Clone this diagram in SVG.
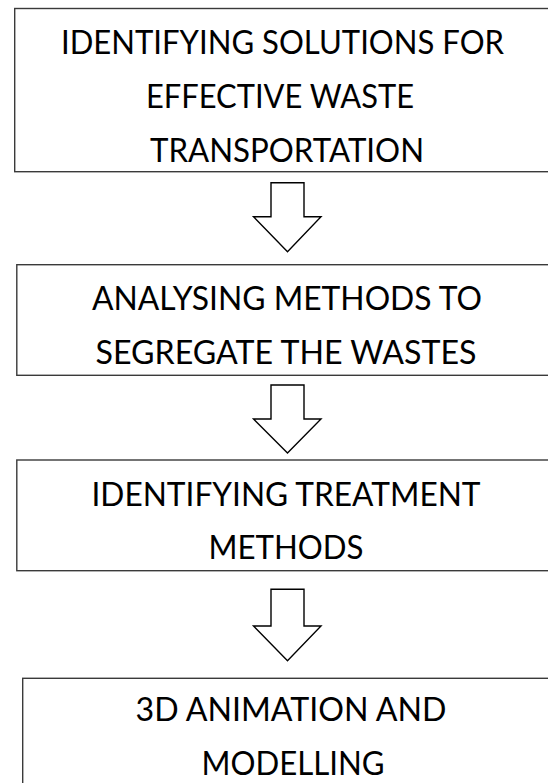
<svg xmlns="http://www.w3.org/2000/svg" width="548" height="783" viewBox="0 0 548 783">
<style>
.box{fill:#ffffff;stroke:#3a3a3a;stroke-width:1.4}
.arrow{fill:#ffffff;stroke:#000000;stroke-width:1.4;stroke-linejoin:miter}
.t{font-family:Lato,"Open Sans","Liberation Sans",sans-serif;font-size:33px;fill:#000000;text-anchor:middle}
</style>
<rect width="548" height="783" fill="#ffffff"/>
<g id="node1">
<rect class="box" x="14.7" y="8.5" width="560" height="163.2"/>
<text class="t" x="282.5" y="53.5" textLength="443" lengthAdjust="spacingAndGlyphs">IDENTIFYING SOLUTIONS FOR</text>
<text class="t" x="280" y="107.5" textLength="268" lengthAdjust="spacingAndGlyphs">EFFECTIVE WASTE</text>
<text class="t" x="287" y="161.5" textLength="274" lengthAdjust="spacingAndGlyphs">TRANSPORTATION</text>
</g>
<g id="node2">
<rect class="box" x="16.8" y="264.7" width="560" height="110.6"/>
<text class="t" x="287" y="310.3" textLength="390" lengthAdjust="spacingAndGlyphs">ANALYSING METHODS TO</text>
<text class="t" x="286" y="363.7" textLength="381" lengthAdjust="spacingAndGlyphs">SEGREGATE THE WASTES</text>
</g>
<g id="node3">
<rect class="box" x="16.8" y="460" width="560" height="110.7"/>
<text class="t" x="286" y="505.6" textLength="389" lengthAdjust="spacingAndGlyphs">IDENTIFYING TREATMENT</text>
<text class="t" x="286" y="558.5" textLength="155" lengthAdjust="spacingAndGlyphs">METHODS</text>
</g>
<g id="node4">
<rect class="box" x="22.7" y="678.3" width="560" height="140"/>
<text class="t" x="291" y="720.5" textLength="311" lengthAdjust="spacingAndGlyphs">3D ANIMATION AND</text>
<text class="t" x="293" y="774.5" textLength="183" lengthAdjust="spacingAndGlyphs">MODELLING</text>
</g>
<g id="connectors">
<path class="arrow" d="M271,182.7 H304 V216.7 H321 L287.5,251.7 L253.5,216.7 H271 Z"/>
<path class="arrow" d="M271,385 H304 V419 H321 L287.5,453 L253.5,419 H271 Z"/>
<path class="arrow" d="M271,589.3 H304 V626 H321 L287.5,660.7 L253.5,626 H271 Z"/>
</g>
</svg>
